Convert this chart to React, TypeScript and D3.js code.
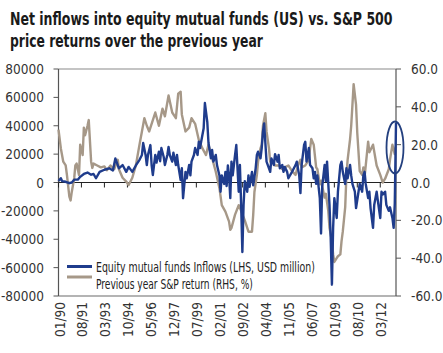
import { useLayoutEffect, useRef, useState } from "react";
import * as d3 from "d3";

const W = 443;
const H = 353;

const titleLines = [
  "Net inflows into equity mutual funds (US) vs. S&P 500",
  "price returns over the previous year",
];

const xTickLabels = [
  "01/90", "08/91", "03/93", "10/94", "05/96", "12/97", "07/99", "02/01",
  "09/02", "04/04", "11/05", "06/07", "01/09", "08/10", "03/12",
];

const leftTicks = [80000, 60000, 40000, 20000, 0, -20000, -40000, -60000, -80000];
const rightTicks = [60, 40, 20, 0, -20, -40, -60];

const legendLabels = [
  "Equity mutual funds Inflows (LHS, USD million)",
  "Previous year S&P return (RHS, %)",
];

// net inflows, USD million
const flows: [string, number][] = [
  ["1990-01", 1000], ["1990-03", 3000], ["1990-04", 1000], ["1990-07", 500], ["1990-10", -500],
  ["1990-12", 0], ["1991-02", 2000], ["1991-05", 2000], ["1991-07", 4000], ["1991-10", 6000],
  ["1992-01", 7000], ["1992-04", 5500], ["1992-06", 6000], ["1992-08", 3000], ["1992-11", 7500],
  ["1993-03", 9000], ["1993-07", 10000], ["1993-10", 8500], ["1993-12", 17000], ["1994-03", 10000],
  ["1994-06", 12300], ["1994-09", 7500], ["1994-11", 11000], ["1995-02", 7500], ["1995-05", 12000],
  ["1995-08", 16000], ["1995-10", 19400], ["1995-11", 27800], ["1996-01", 19400], ["1996-02", 12300],
  ["1996-03", 19400], ["1996-05", 26400], ["1996-06", 12300], ["1996-07", 5300], ["1996-09", 19400],
  ["1996-10", 14000], ["1996-12", 21700], ["1997-01", 15000], ["1997-02", 24300], ["1997-04", 18000],
  ["1997-05", 12300], ["1997-07", 19400], ["1997-08", 25000], ["1997-09", 19400], ["1997-11", 14700],
  ["1997-12", 21000], ["1998-02", 12300], ["1998-03", 19400], ["1998-04", 12300], ["1998-06", 1700],
  ["1998-07", 10000], ["1998-08", -11100], ["1998-10", 7500], ["1998-11", 3000], ["1999-01", 12300],
  ["1999-02", 5000], ["1999-03", 14700], ["1999-05", 19400], ["1999-06", 24300], ["1999-08", 19400],
  ["1999-09", 28800], ["1999-10", 24300], ["2000-01", 38200], ["2000-02", 56000], ["2000-04", 42800],
  ["2000-05", 28000], ["2000-07", 17000], ["2000-08", 22900], ["2000-09", 14700], ["2000-11", 19400],
  ["2000-12", 12300], ["2001-02", 5000], ["2001-03", -6500], ["2001-04", 5000], ["2001-06", -1000],
  ["2001-07", 7500], ["2001-08", -2500], ["2001-09", 12000], ["2001-10", 5000], ["2001-11", -11000],
  ["2001-12", 14700], ["2002-01", 5000], ["2002-03", 19400], ["2002-04", 26400], ["2002-06", -6500],
  ["2002-07", 12300], ["2002-08", -15800], ["2002-09", -49000], ["2002-10", -15800], ["2002-11", 1000],
  ["2003-01", -6500], ["2003-02", 5000], ["2003-03", -3000], ["2003-05", 7500], ["2003-06", -2000],
  ["2003-08", 10000], ["2003-09", 19400], ["2003-10", 21700], ["2003-12", 17000], ["2004-01", 24300],
  ["2004-02", 35800], ["2004-03", 41700], ["2004-04", 28000], ["2004-05", 14700], ["2004-07", 10000],
  ["2004-08", 7500], ["2004-09", 17000], ["2004-11", 12300], ["2004-12", 20000], ["2005-02", 14700],
  ["2005-03", 19400], ["2005-04", 10000], ["2005-06", 12300], ["2005-07", 7500], ["2005-08", 11000],
  ["2005-10", 7500], ["2005-11", 3000], ["2006-02", 7500], ["2006-05", 12300], ["2006-06", 14700],
  ["2006-08", 5000], ["2006-09", -7500], ["2006-10", 12300], ["2006-12", 26400], ["2007-01", 28700],
  ["2007-02", 14700], ["2007-04", 24300], ["2007-05", 12300], ["2007-07", 10000], ["2007-08", 3000],
  ["2007-09", 7500], ["2007-10", -1000], ["2007-11", 5000], ["2008-01", -11000], ["2008-02", -36000],
  ["2008-03", -3000], ["2008-05", 12300], ["2008-06", 1000], ["2008-07", 14700], ["2008-09", -15800],
  ["2008-10", -39000], ["2008-11", -72000], ["2008-12", -32000], ["2009-01", -11000], ["2009-03", -25000],
  ["2009-04", -6500], ["2009-06", 12300], ["2009-07", 14700], ["2009-08", 7500], ["2009-10", -1000],
  ["2009-11", 10000], ["2009-12", 3000], ["2010-02", 12300], ["2010-03", 5000], ["2010-04", -1000],
  ["2010-06", -6500], ["2010-07", -18000], ["2010-09", -6500], ["2010-10", -1000], ["2010-12", -6500],
  ["2011-01", 5000], ["2011-02", 7500], ["2011-03", -1000], ["2011-05", -11000], ["2011-06", -6500],
  ["2011-07", -18000], ["2011-09", -32000], ["2011-10", -15800], ["2011-12", -6500], ["2012-01", -13000],
  ["2012-03", -25000], ["2012-04", -6500], ["2012-05", -8500], ["2012-07", -6500], ["2012-08", -15800],
  ["2012-10", -20000], ["2012-11", -17500], ["2013-01", -25000], ["2013-02", -32000], ["2013-03", -15000],
  ["2013-04", 42000],
];

// S&P 500 trailing 12m price return, %
const spReturn: [string, number][] = [
  ["1990-01", 28], ["1990-03", 18], ["1990-05", 11], ["1990-07", 9], ["1990-08", 4],
  ["1990-10", -7.5], ["1990-11", -9.5], ["1990-12", -5], ["1991-02", 2.4], ["1991-03", 9],
  ["1991-04", 10], ["1991-06", 4], ["1991-07", 20], ["1991-09", 14.5], ["1991-10", 29],
  ["1991-11", 25], ["1992-01", 30], ["1992-02", 33], ["1992-04", 11], ["1992-05", 7.7],
  ["1992-06", 10], ["1992-09", 9], ["1992-12", 8], ["1993-03", 8.5], ["1993-05", 6.5],
  ["1993-08", 9], ["1993-11", 7], ["1994-02", 12], ["1994-03", 7], ["1994-06", 2.5],
  ["1994-09", 0.5], ["1994-11", -1.3], ["1995-02", 2.5], ["1995-05", 9], ["1995-08", 20],
  ["1995-10", 27], ["1995-12", 34], ["1996-02", 30], ["1996-04", 27], ["1996-06", 31],
  ["1996-09", 37], ["1996-12", 30], ["1997-03", 39], ["1997-05", 35], ["1997-08", 46],
  ["1997-11", 37], ["1998-02", 34], ["1998-04", 47], ["1998-06", 48], ["1998-07", 36],
  ["1998-10", 27], ["1999-01", 29], ["1999-03", 34], ["1999-06", 31], ["1999-09", 22.5],
  ["1999-12", 18], ["2000-03", 14.5], ["2000-05", 20], ["2000-08", 12.8], ["2000-11", 5.7],
  ["2001-02", -3], ["2001-04", -12], ["2001-07", -15.4], ["2001-10", -20.7], ["2001-11", -25],
  ["2001-12", -24], ["2002-03", -17], ["2002-06", -12], ["2002-08", -15], ["2002-11", -20],
  ["2003-02", -26], ["2003-05", -26], ["2003-06", -17], ["2003-07", -5], ["2003-09", 4],
  ["2003-10", 11], ["2003-12", 18], ["2004-01", 20], ["2004-02", 30], ["2004-04", 36.6],
  ["2004-05", 27], ["2004-07", 18], ["2004-08", 11], ["2004-09", 12], ["2004-12", 9],
  ["2005-03", 9], ["2005-06", 7], ["2005-08", 8], ["2005-11", 9], ["2006-02", 6],
  ["2006-05", 4], ["2006-07", 9], ["2006-09", 12], ["2006-10", 8], ["2007-01", 9],
  ["2007-04", 12], ["2007-05", 18], ["2007-06", 23], ["2007-08", 20], ["2007-09", 14],
  ["2007-10", 8], ["2007-11", 7], ["2008-01", -1], ["2008-02", 1], ["2008-04", -5],
  ["2008-05", -8], ["2008-06", -6], ["2008-08", -15], ["2008-09", -24], ["2008-11", -31],
  ["2008-12", -38], ["2009-01", -42], ["2009-03", -40], ["2009-04", -39], ["2009-06", -38],
  ["2009-07", -31], ["2009-08", -26], ["2009-10", -13], ["2009-11", 4], ["2009-12", 12],
  ["2010-02", 23], ["2010-03", 30], ["2010-04", 41], ["2010-05", 52], ["2010-07", 41],
  ["2010-08", 26], ["2010-09", 16], ["2010-10", 6], ["2010-12", 4], ["2011-01", 8],
  ["2011-02", 3], ["2011-05", 21.6], ["2011-06", 16], ["2011-09", 20], ["2011-12", 9],
  ["2012-03", 4], ["2012-05", 0], ["2012-07", 2], ["2012-10", 7], ["2012-11", 12],
  ["2013-01", 20], ["2013-03", 15], ["2013-04", 19],
];

// circled annotation at the end of the series (date, RHS value)
const highlight = { date: "2013-04", value: 18.5 };

const BLUE = "#1f3c8c";
const GRAY = "#a69888";
const FONT = "'DejaVu Sans Condensed', 'Liberation Sans Narrow', 'Liberation Sans', sans-serif";

const parseMonth = d3.timeParse("%Y-%m");
const parseTick = d3.timeParse("%m/%y");

// squeeze a text horizontally to a target width (condensed look of the original)
function FitText({ x, y, width, children, ...rest }: any) {
  const ref = useRef<SVGTextElement>(null);
  const [sx, setSx] = useState(1);
  useLayoutEffect(() => {
    if (!ref.current) return;
    const w = ref.current.getComputedTextLength();
    if (w > 0) setSx(width / w);
  }, [width, children]);
  return (
    <g transform={`translate(${x},${y}) scale(${sx},1)`}>
      <text ref={ref} x={0} y={0} {...rest}>{children}</text>
    </g>
  );
}

export default function App() {
  const left = 58.5, right = 396, top = 69, bottom = 296;

  const x = d3.scaleTime()
    .domain([parseMonth("1990-01")!, parseMonth("2013-04")!])
    .range([left, right]);
  const yL = d3.scaleLinear().domain([-80000, 80000]).range([bottom, top]);
  const yR = d3.scaleLinear().domain([-60, 60]).range([bottom, top]);

  const flowLine = d3.line<[string, number]>()
    .x((d) => x(parseMonth(d[0])!))
    .y((d) => yL(d[1]));
  const spLine = d3.line<[string, number]>()
    .x((d) => x(parseMonth(d[0])!))
    .y((d) => yR(d[1]));

  const zeroY = yL(0);
  const hx = x(parseMonth(highlight.date)!) - 1;
  const hy = yR(highlight.value);

  return (
    <svg width={W} height={H} style={{ display: "block", position: "absolute", left: 0, top: 0 }}>
      <rect width={W} height={H} fill="#fff" />
      {titleLines.map((t, i) => (
        <FitText key={t} x={10} y={25 + i * 21.5} width={i === 0 ? 383 : 253}
          fontFamily={FONT} fontWeight="bold" fontSize={18} fill="#1a1a1a">{t}</FitText>
      ))}

      {/* frame */}
      <line x1={left} x2={right} y1={top} y2={top} stroke="#8a8a8a" strokeWidth={1.2} />
      <line x1={left} x2={right} y1={bottom} y2={bottom} stroke="#6a6a6a" strokeWidth={1.2} />
      <line x1={left} x2={left} y1={top} y2={bottom} stroke="#555" strokeWidth={1.2} />
      <line x1={right} x2={right} y1={top} y2={bottom} stroke="#555" strokeWidth={1.2} />

      {leftTicks.map((v) => (
        <g key={"l" + v}>
          <line x1={left - 5} x2={left} y1={yL(v)} y2={yL(v)} stroke="#555" />
          <text x={44} y={yL(v) + 5} textAnchor="end" fontFamily={FONT} fontSize={13.5} fill="#333">{v}</text>
        </g>
      ))}
      {rightTicks.map((v) => (
        <g key={"r" + v}>
          <line x1={right} x2={right + 5} y1={yR(v)} y2={yR(v)} stroke="#555" />
          <text x={411} y={yR(v) + 5} fontFamily={FONT} fontSize={13.5} fill="#333">{v.toFixed(1)}</text>
        </g>
      ))}

      {/* zero line with category ticks */}
      <line x1={left} x2={right} y1={zeroY} y2={zeroY} stroke="#222" strokeWidth={1.2} />
      {xTickLabels.map((lab) => {
        const tx = x(parseTick(lab)!);
        return (
          <g key={lab}>
            <line x1={tx} x2={tx} y1={zeroY} y2={zeroY + 5} stroke="#222" />
            <text transform={`translate(${tx + 6},302) rotate(-90)`} textAnchor="end"
              fontFamily={FONT} fontSize={13.5} fill="#333">{lab}</text>
          </g>
        );
      })}

      <path d={spLine(spReturn)!} fill="none" stroke={GRAY} strokeWidth={2.4} strokeLinejoin="round" />
      <path d={flowLine(flows)!} fill="none" stroke={BLUE} strokeWidth={2.4} strokeLinejoin="round" />

      <ellipse cx={hx} cy={hy} rx={8.5} ry={26} fill="none" stroke="#24407f" strokeWidth={1.8} />

      {/* legend */}
      <line x1={67} x2={92} y1={266.5} y2={266.5} stroke={BLUE} strokeWidth={3} />
      <FitText x={96} y={271.5} width={219} fontFamily={FONT} fontSize={13.5} fill="#222">{legendLabels[0]}</FitText>
      <line x1={67} x2={92} y1={277} y2={277} stroke={GRAY} strokeWidth={3} />
      <FitText x={96} y={289} width={157} fontFamily={FONT} fontSize={13.5} fill="#222">{legendLabels[1]}</FitText>
    </svg>
  );
}
